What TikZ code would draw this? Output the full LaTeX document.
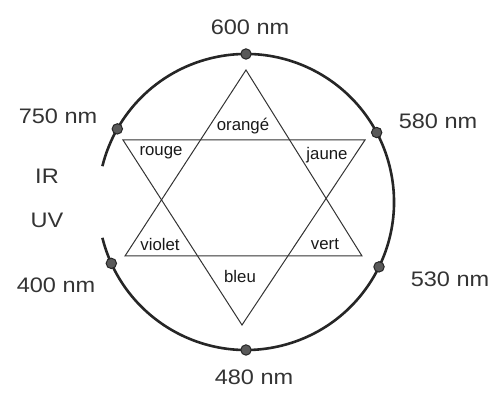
\documentclass[tikz,border=0pt]{standalone}
\usepackage{fontspec}
\setmainfont{Liberation Sans}
\newfontfamily\cwfont[FakeStretch=1.12]{Liberation Sans}
\usetikzlibrary{positioning}
\tikzset{
  cwring/.style={draw=black!85, line width=1.3pt},
  cwstar/.style={draw=black!80, line width=0.5pt, line join=miter},
  cwdot/.style={circle, draw=black!85, fill=black!65, line width=0.5pt,
                minimum size=5.2pt, inner sep=0pt},
  cwlab/.style={font=\cwfont\fontsize{10.5}{12}\selectfont, text=black!80, inner sep=0pt},
  cwin/.style={font=\fontsize{8.4}{10}\selectfont, text=black!90, inner sep=0pt},
}

\begin{document}
\begin{tikzpicture}[x=0.5pt, y=0.5pt]
  \useasboundingbox (-246,-192) rectangle (248,202);
  % ring with the IR / UV gap on the left
  \draw[cwring] (194:148) arc[start angle=194, end angle=526, radius=148];
  % two triangles of the star
  \coordinate (ua) at (0,132);
  \coordinate (ul) at (-121,-54);
  \coordinate (ur) at (116,-54);
  \coordinate (dl) at (-123,62);
  \coordinate (dr) at (119,62);
  \coordinate (db) at (-4,-123);
  \draw[cwstar] (ua) -- (ul) -- (ur) -- cycle;
  \draw[cwstar] (dl) -- (dr) -- (db) -- cycle;
  % wavelength marks
  \node[cwdot] (d600) at (90:148) {};
  \node[cwdot] (d580) at (28:148) {};
  \node[cwdot] (d750) at (150.4:148) {};
  \node[cwdot] (d400) at (204.5:148) {};
  \node[cwdot] (d530) at (334:148) {};
  \node[cwdot] (d480) at (270:148) {};
  \node[cwlab] (l600) at (4,175) {600 nm};
  \node[cwlab] (l580) at (192,81) {580 nm};
  \node[cwlab] (l750) at (-188,86) {750 nm};
  \node[cwlab] (lir) at (-199,26) {IR};
  \node[cwlab] (luv) at (-199,-18) {UV};
  \node[cwlab] (l400) at (-190,-83) {400 nm};
  \node[cwlab] (l530) at (204,-77) {530 nm};
  \node[cwlab] (l480) at (8,-175) {480 nm};
  % colour names
  \node[cwin] (orange) at (-3,76) {orangé};
  \node[cwin] (rouge) at (-85,49) {rouge};
  \node[cwin] (jaune) at (81,47) {jaune};
  \node[cwin] (violet) at (-86,-43) {violet};
  \node[cwin] (vert) at (79,-42) {vert};
  \node[cwin] (bleu) at (-6,-75) {bleu};
\end{tikzpicture}
\end{document}
